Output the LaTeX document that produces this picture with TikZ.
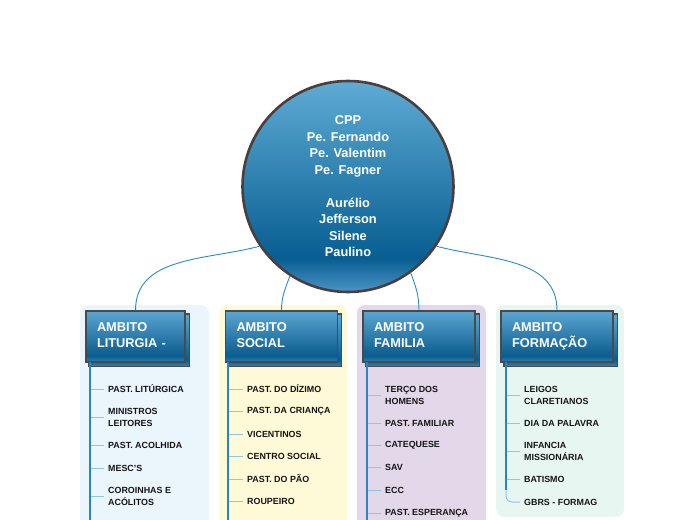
\documentclass[tikz,border=0pt]{standalone}
\usepackage{fontspec}
\setmainfont{Liberation Sans}
\usetikzlibrary{positioning}

\definecolor{linkblue}{HTML}{2A8AC6}
\definecolor{stemblue}{HTML}{2B84BF}
\definecolor{tickblue}{HTML}{8EC6E6}
\definecolor{rimgray}{HTML}{4A3E3E}
\definecolor{boxgray}{HTML}{4A4A4A}
\definecolor{panelA}{HTML}{EBF5FC}
\definecolor{panelB}{HTML}{FEF9D6}
\definecolor{panelC}{HTML}{E3D7EA}
\definecolor{panelD}{HTML}{E8F6F2}
\definecolor{itemtext}{HTML}{151515}

\pgfdeclareverticalshading{ballshade}{100bp}{rgb(0bp)=(0.30,0.58,0.78); rgb(25bp)=(0.30,0.58,0.78); rgb(33bp)=(0.03,0.37,0.57); rgb(75bp)=(0.37,0.67,0.83); rgb(100bp)=(0.37,0.67,0.83)}
\pgfdeclareverticalshading{headshade}{100bp}{rgb(0bp)=(0.20,0.50,0.70); rgb(25bp)=(0.20,0.50,0.70); rgb(31bp)=(0.04,0.36,0.56); rgb(75bp)=(0.36,0.65,0.82); rgb(100bp)=(0.36,0.65,0.82)}

\pgfdeclarelayer{panels}
\pgfdeclarelayer{shadows}
\pgfsetlayers{panels,shadows,main}

\tikzset{
  ball/.style={circle, shade, shading=ballshade, draw=rimgray, line width=2.6pt,
    minimum size=211pt, inner sep=0pt, align=center, text=white,
    font=\fontsize{12.8}{16.5}\selectfont\bfseries},
  head/.style={rectangle, shade, shading=headshade, draw=boxgray, line width=1.2pt,
    minimum height=51pt, inner xsep=11pt, align=left, text=white,
    font=\fontsize{12.8}{16}\selectfont\bfseries,
    execute at end node={\vphantom{\c{C}}}},
  headback/.style={shade, shading=headshade, draw=boxgray, line width=1.2pt},
  item/.style={anchor=west, inner sep=0pt, align=left, text=itemtext,
    font=\fontsize{8.9}{12}\selectfont\bfseries},
  link/.style={draw=linkblue, line width=0.9pt},
  stem/.style={draw=stemblue, line width=1.4pt},
  tick/.style={draw=tickblue, line width=1pt}
}

\begin{document}
\begin{tikzpicture}[x=1pt,y=1pt]
\useasboundingbox (0,0) rectangle (697,-520);

% coloured panels
\begin{pgfonlayer}{panels}
\fill[panelA, rounded corners=8pt] (80,-305) rectangle (209,-535);
\fill[panelB, rounded corners=8pt] (219,-305) rectangle (347,-535);
\fill[panelC, rounded corners=8pt] (357,-305) rectangle (486,-535);
\fill[panelD, rounded corners=8pt] (496,-305) rectangle (624,-517);
\end{pgfonlayer}

% centre
\node[ball] (cpp) at (348,-186.5) {CPP\\Pe. Fernando\\Pe. Valentim\\Pe. Fagner\\[16.5pt]Aur\'elio\\Jefferson\\Silene\\Paulino};

% ambitos
\node[head, text width=77pt] (h1) at (135.5,-336.5) {AMBITO\\LITURGIA -};
\node[head, text width=90pt] (h2) at (281.5,-336.5) {AMBITO\\SOCIAL};
\node[head, text width=90pt] (h3) at (419,-336.5) {AMBITO\\FAMILIA};
\node[head, text width=90pt] (h4) at (557,-336.5) {AMBITO\\FORMA\c{C}\~AO};

\begin{pgfonlayer}{shadows}
\path[headback] ([shift={(3.5,-3.5)}]h1.south west) rectangle ([shift={(3.5,-3.5)}]h1.north east);
\path[headback] ([shift={(3.5,-3.5)}]h2.south west) rectangle ([shift={(3.5,-3.5)}]h2.north east);
\path[headback] ([shift={(3.5,-3.5)}]h3.south west) rectangle ([shift={(3.5,-3.5)}]h3.north east);
\path[headback] ([shift={(3.5,-3.5)}]h4.south west) rectangle ([shift={(3.5,-3.5)}]h4.north east);
\draw[link] (cpp.214) to[out=195,in=90] (h1.north);
\draw[link] (cpp.237) to[out=250,in=90] (h2.north);
\draw[link] (cpp.306) to[out=290,in=90] (h3.north);
\draw[link] (cpp.326) to[out=-15,in=90] (h4.north);
\end{pgfonlayer}

% liturgia
\node[item] (i11) at (108,-389) {PAST. LIT\'URGICA};
\node[item] (i12) at (108,-417) {MINISTROS\\LEITORES};
\node[item] (i13) at (108,-445) {PAST. ACOLHIDA};
\node[item] (i14) at (108,-468) {MESC'S};
\node[item] (i15) at (108,-496) {COROINHAS E\\AC\'OLITOS};

% social
\node[item] (i21) at (247,-389) {PAST. DO D\'IZIMO};
\node[item] (i22) at (247,-411) {PAST. DA CRIAN\c{C}A};
\node[item] (i23) at (247,-434) {VICENTINOS};
\node[item] (i24) at (247,-456) {CENTRO SOCIAL};
\node[item] (i25) at (247,-479) {PAST. DO P\~AO};
\node[item] (i26) at (247,-501) {ROUPEIRO};

% familia
\node[item] (i31) at (385,-395) {TER\c{C}O DOS\\HOMENS};
\node[item] (i32) at (385,-423) {PAST. FAMILIAR};
\node[item] (i33) at (385,-445) {CATEQUESE};
\node[item] (i34) at (385,-467) {SAV};
\node[item] (i35) at (385,-490) {ECC};
\node[item] (i36) at (385,-513) {PAST. ESPERAN\c{C}A};

% formacao
\node[item] (i41) at (524,-395) {LEIGOS\\CLARETIANOS};
\node[item] (i42) at (524,-423) {DIA DA PALAVRA};
\node[item] (i43) at (524,-451) {INFANCIA\\MISSION\'ARIA};
\node[item] (i44) at (524,-479) {BATISMO};
\node[item] (i45) at (524,-502) {GBRS - FORMAG};

% stems and ticks
\coordinate (s1) at (90,-362);  \coordinate (e1) at (90,-522);
\coordinate (s2) at (228,-362); \coordinate (e2) at (228,-522);
\coordinate (s3) at (367,-362); \coordinate (e3) at (367,-522);
\coordinate (s4) at (506,-362); \coordinate (e4) at (506,-490);

\draw[tick] ([xshift=-4pt]i11.west) -- (i11.west -| s1)
            ([xshift=-4pt]i12.west) -- (i12.west -| s1)
            ([xshift=-4pt]i13.west) -- (i13.west -| s1)
            ([xshift=-4pt]i14.west) -- (i14.west -| s1)
            ([xshift=-4pt]i15.west) -- (i15.west -| s1);
\draw[tick] ([xshift=-4pt]i21.west) -- (i21.west -| s2)
            ([xshift=-4pt]i22.west) -- (i22.west -| s2)
            ([xshift=-4pt]i23.west) -- (i23.west -| s2)
            ([xshift=-4pt]i24.west) -- (i24.west -| s2)
            ([xshift=-4pt]i25.west) -- (i25.west -| s2)
            ([xshift=-4pt]i26.west) -- (i26.west -| s2);
\draw[tick] ([xshift=-4pt]i31.west) -- (i31.west -| s3)
            ([xshift=-4pt]i32.west) -- (i32.west -| s3)
            ([xshift=-4pt]i33.west) -- (i33.west -| s3)
            ([xshift=-4pt]i34.west) -- (i34.west -| s3)
            ([xshift=-4pt]i35.west) -- (i35.west -| s3)
            ([xshift=-4pt]i36.west) -- (i36.west -| s3);
\draw[tick] ([xshift=-4pt]i41.west) -- (i41.west -| s4)
            ([xshift=-4pt]i42.west) -- (i42.west -| s4)
            ([xshift=-4pt]i43.west) -- (i43.west -| s4)
            ([xshift=-4pt]i44.west) -- (i44.west -| s4);
\draw[tick, rounded corners=6pt] (e4) |- ([xshift=-4pt]i45.west);

\draw[stem] (s1) -- (e1);
\draw[stem] (s2) -- (e2);
\draw[stem] (s3) -- (e3);
\draw[stem] (s4) -- (e4);
\end{tikzpicture}
\end{document}
